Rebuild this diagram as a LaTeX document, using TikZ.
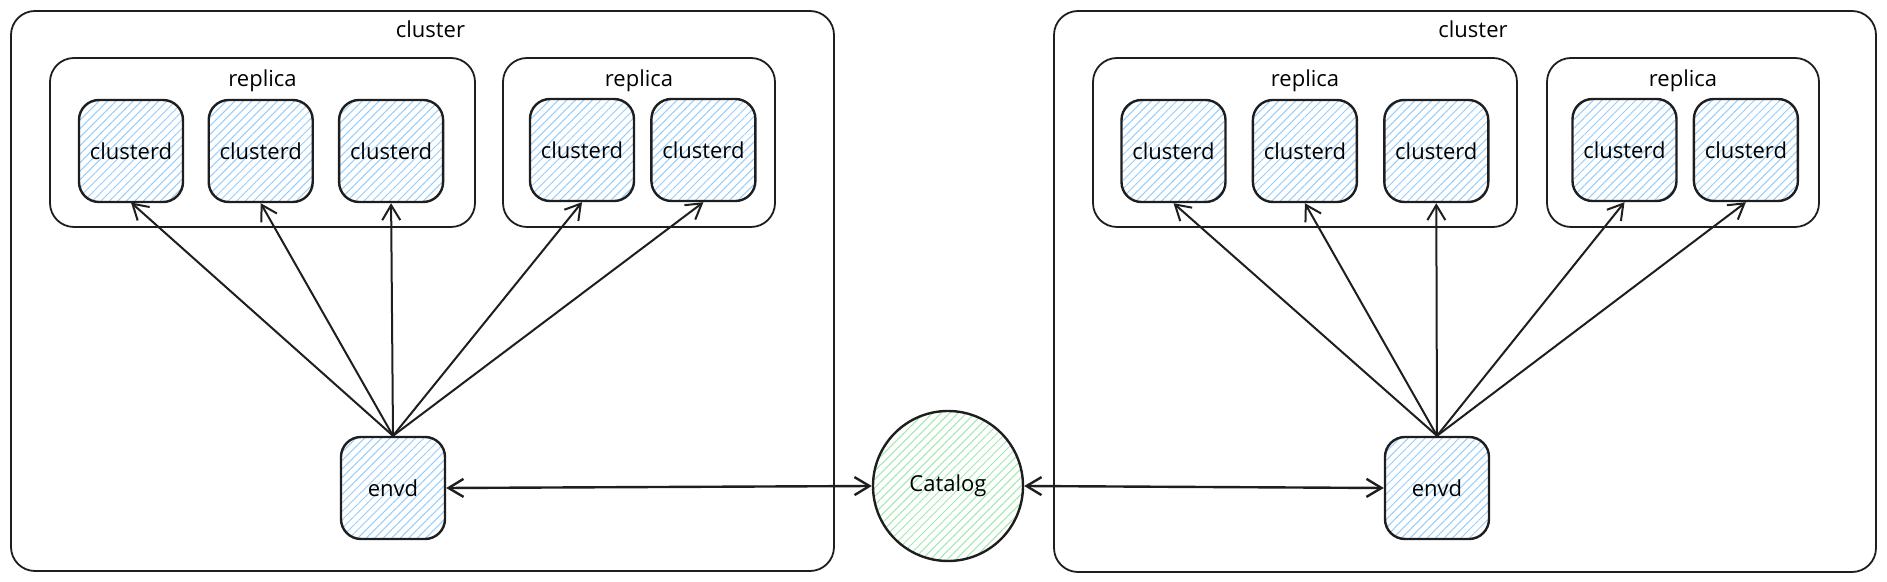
\documentclass[tikz,border=0pt]{standalone}
\usepackage{fontspec}
\setmainfont{Open Sans}
\usepackage{tikz}
\usepackage{xcolor}
\usetikzlibrary{arrows.meta,positioning,patterns.meta}
\definecolor{xline}{RGB}{30,30,30}
\definecolor{xblue}{RGB}{150,205,250}
\definecolor{xgreen}{RGB}{160,232,172}

\begin{document}
\begin{tikzpicture}[x=0.5pt,y=-0.5pt,>={Straight Barb[length=7.5pt,width=9pt]},
  grp/.style={draw=xline,line width=0.9pt,rounded corners=12pt},
  proc/.style={draw=xline,line width=1.2pt,rounded corners=10pt,
    minimum width=52pt,minimum height=51pt,inner sep=0pt,
    pattern={Lines[angle=45,distance=3pt,line width=0.5pt]},pattern color=xblue},
  lab/.style={font=\fontsize{11}{13}\selectfont},
  link/.style={draw=xline,line width=1pt,->}]
  \useasboundingbox (0,0) rectangle (1887,582);
  \tikzset{every node/.append style={lab}}

  % clusters
  \node[grp,minimum width=411.5pt,minimum height=280pt] (cl1) at (422.5,291) {};
  \node[grp,minimum width=411pt,minimum height=280.5pt] (cl2) at (1465,291.5) {};
  \node[below=2pt of cl1.north,xshift=4pt] (cl1t) {cluster};
  \node[below=2pt of cl2.north,xshift=4pt] (cl2t) {cluster};

  % replicas
  \node[grp,minimum width=212.5pt,minimum height=84.5pt] (rp1) at (262.5,142.5) {};
  \node[grp,minimum width=136pt,minimum height=84.5pt] (rp2) at (639,142.5) {};
  \node[grp,minimum width=212pt,minimum height=84.5pt] (rp3) at (1305,142.5) {};
  \node[grp,minimum width=136pt,minimum height=84.5pt] (rp4) at (1683,142.5) {};
  \foreach \r in {1,...,4}
    \node[below=3pt of rp\r.north] (rp\r t) {replica};

  % clusterd
  \node[proc] (ca1) at (131,151) {clusterd};
  \node[proc,right=12pt of ca1] (ca2) {clusterd};
  \node[proc,right=12pt of ca2] (ca3) {clusterd};
  \node[proc] (ca4) at (582,150) {clusterd};
  \node[proc,right=7.5pt of ca4] (ca5) {clusterd};
  \node[proc] (cb1) at (1173.5,151) {clusterd};
  \node[proc,right=12.5pt of cb1] (cb2) {clusterd};
  \node[proc,right=12.5pt of cb2] (cb3) {clusterd};
  \node[proc] (cb4) at (1624.5,150) {clusterd};
  \node[proc,right=7.5pt of cb4] (cb5) {clusterd};

  % envd and catalog
  \node[proc] (ea) at (393,488) {envd};
  \node[proc] (eb) at (1437,488) {envd};
  \node[circle,draw=xline,line width=1.2pt,minimum size=75pt,
    pattern={Lines[angle=45,distance=3pt,line width=0.5pt]},pattern color=xgreen] (cat) at (948,486) {Catalog};

  \foreach \i in {1,...,5} {
    \draw[link] (ea.north) -- (ca\i.south);
    \draw[link] (eb.north) -- (cb\i.south);
  }
  \draw[link,<->,line width=1.2pt] (ea.east) -- (cat.west);
  \draw[link,<->,line width=1.2pt] (cat.east) -- (eb.west);
\end{tikzpicture}
\end{document}
